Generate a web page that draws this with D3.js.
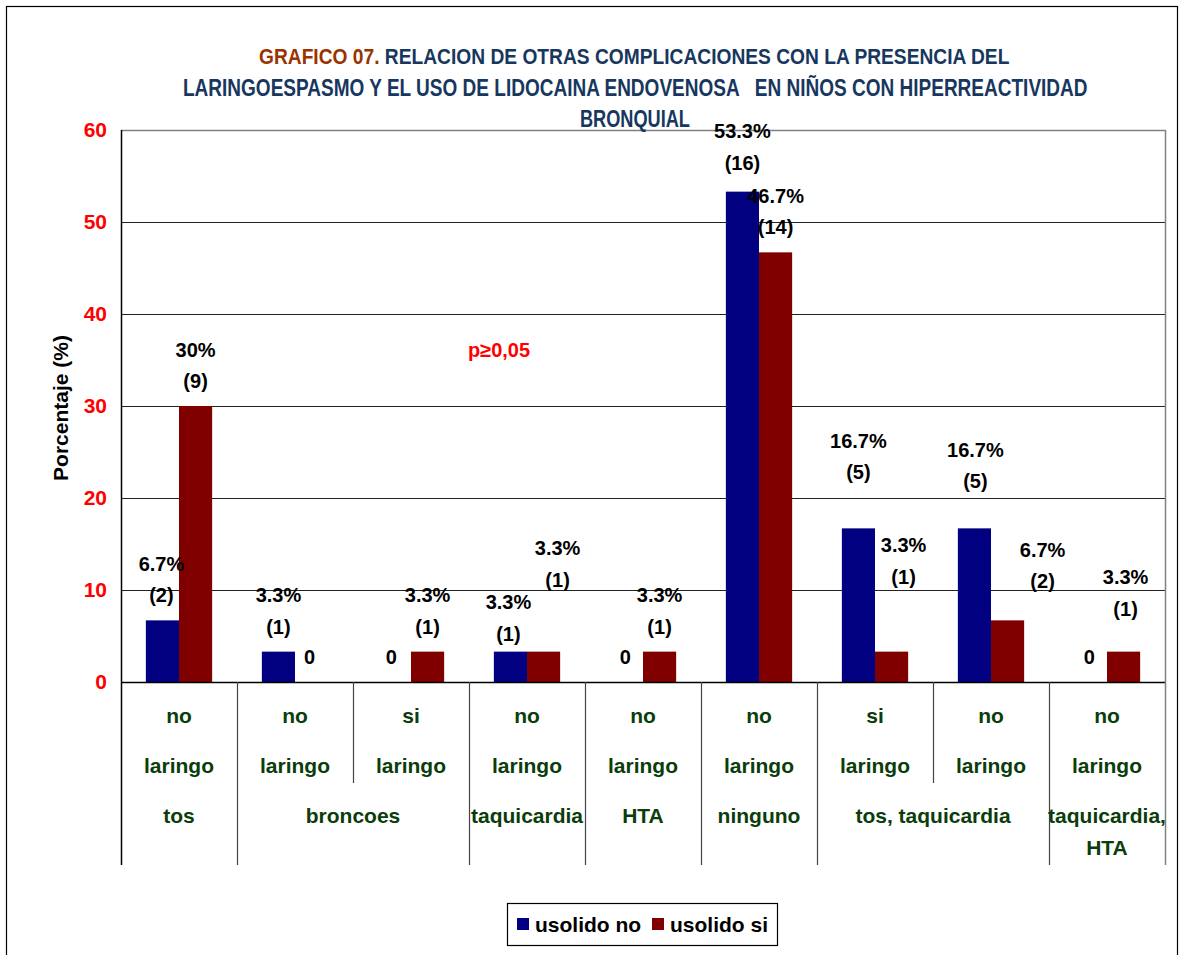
<!DOCTYPE html>
<html>
<head>
<meta charset="utf-8">
<script src="https://cdn.jsdelivr.net/npm/d3@7"></script>
<style>
  html, body { margin: 0; padding: 0; background: #fff; }
  svg { display: block; font-family: "Liberation Sans", Arial, sans-serif; }
</style>
</head>
<body>
<div id="chart"></div>
<script>
// ---------------- DATA ----------------
const categories = ["c1","c2","c3","c4","c5","c6","c7","c8","c9"];
const level1 = ["no","no","si","no","no","no","si","no","no"];
const level2 = ["laringo","laringo","laringo","laringo","laringo","laringo","laringo","laringo","laringo"];
const groupNames = ["tos","broncoes","taquicardia","HTA","ninguno","tos, taquicardia","taquicardia,|HTA"];
const groupSpans = [1,2,1,1,1,2,1];
const seriesNames = ["usolido no","usolido si"];
const usolidoNo = [6.7,3.3,0,3.3,0,53.3,16.7,16.7,0];
const usolidoSi = [30,0,3.3,3.3,3.3,46.7,3.3,6.7,3.3];
const countsNo = [2,1,0,1,0,16,5,5,0];
const countsSi = [9,0,1,1,1,14,1,2,1];
const yTicks = [0,10,20,30,40,50,60];
const titleLead = "GRAFICO 07.";
const titleLines = ["RELACION DE OTRAS COMPLICACIONES CON LA PRESENCIA DEL",
                    "LARINGOESPASMO Y EL USO DE LIDOCAINA ENDOVENOSA   EN NIÑOS CON HIPERREACTIVIDAD",
                    "BRONQUIAL"];
const yTitle = "Porcentaje (%)";
const pNote = "p\u22650,05";

// label nudges (manual placements in the original), [dx, dy] in px
const nudgeNo = [[-1,0],[0,0],[-3,0],[-2,7],[-1,0],[0,-4],[0,-31],[1,-22],[-1,0]];
const nudgeSi = [[0,0],[-2,0],[0,0],[14,-47],[0,0],[0,0],[12,-50],[35,-14],[2,-18]];

// ---------------- LAYOUT ----------------
const W = 1182, H = 955;
const plot = {left: 121, right: 1165, top: 130, bottom: 682};
const colors = {no: "#000080", si: "#800000"};
const green = "#0b3d0b";

const svg = d3.select("#chart").append("svg")
  .attr("width", W).attr("height", H);

svg.append("rect").attr("width", W).attr("height", H).attr("fill", "#fff");
// outer chart border
svg.append("rect").attr("x", 6.5).attr("y", 6.5).attr("width", 1171).attr("height", 960)
  .attr("fill", "none").attr("stroke", "#000").attr("stroke-width", 1.2);

const y = d3.scaleLinear().domain([0, 60]).range([plot.bottom, plot.top]);
const x0 = d3.scaleBand().domain(categories).range([plot.left, plot.right]).paddingInner(0).paddingOuter(0);
const x1 = d3.scaleBand().domain(["no","si"]).range([0, x0.bandwidth()]).paddingInner(0).paddingOuter(0.75);

// gridlines
svg.append("g").selectAll("line").data(yTicks.filter(t => t > 0 && t < 60)).join("line")
  .attr("x1", plot.left).attr("x2", plot.right)
  .attr("y1", d => Math.round(y(d)) + 0.5).attr("y2", d => Math.round(y(d)) + 0.5)
  .attr("stroke", "#222").attr("stroke-width", 1);
// plot border top/right (gray)
svg.append("path")
  .attr("d", `M${plot.left},${plot.top + 0.5}H${plot.right + 0.5}V${plot.bottom}`)
  .attr("fill", "none").attr("stroke", "#808080").attr("stroke-width", 1.5);

// bars
const rows = categories.map((c, i) => ({c, i, no: usolidoNo[i], si: usolidoSi[i]}));
const barG = svg.append("g");
["no","si"].forEach(s => {
  barG.selectAll(".bar-" + s).data(rows).join("rect")
    .attr("class", "bar-" + s)
    .attr("x", d => x0(d.c) + x1(s))
    .attr("width", x1.bandwidth())
    .attr("y", d => y(d[s]))
    .attr("height", d => y(0) - y(d[s]))
    .attr("fill", colors[s]);
});

// y axis
const yAxis = d3.axisLeft(y).tickValues(yTicks).tickSize(0).tickPadding(14);
const yg = svg.append("g").attr("transform", `translate(${plot.left},0)`).call(yAxis);
yg.select(".domain").remove();
yg.selectAll("text").attr("fill", "#ff0000").attr("font-size", 21).attr("font-weight", "bold")
  .attr("font-family", "'Liberation Sans', Arial, sans-serif");
// y axis line (extends through the category table)
svg.append("line").attr("x1", plot.left + 0.5).attr("x2", plot.left + 0.5)
  .attr("y1", plot.top).attr("y2", 865).attr("stroke", "#000").attr("stroke-width", 1.5);
// x axis line
svg.append("line").attr("x1", plot.left).attr("x2", plot.right)
  .attr("y1", plot.bottom + 0.5).attr("y2", plot.bottom + 0.5).attr("stroke", "#000").attr("stroke-width", 1.5);
// right edge extends
svg.append("line").attr("x1", plot.right + 0.5).attr("x2", plot.right + 0.5)
  .attr("y1", plot.bottom).attr("y2", 865).attr("stroke", "#808080").attr("stroke-width", 1.5);

// category separators
const groupStarts = [];
let acc = 0;
groupSpans.forEach(s => { groupStarts.push(acc); acc += s; });
categories.forEach((c, i) => {
  if (i === 0) return;
  const isGroupBoundary = groupStarts.includes(i);
  const xx = Math.round(x0(c)) + 0.5;
  svg.append("line").attr("x1", xx).attr("x2", xx)
    .attr("y1", plot.bottom).attr("y2", isGroupBoundary ? 865 : 783)
    .attr("stroke", "#444").attr("stroke-width", 1.2);
});

// category labels
const catFont = {size: 21, weight: "bold"};
const lab = svg.append("g").attr("fill", green).attr("font-size", catFont.size)
  .attr("font-weight", catFont.weight).attr("text-anchor", "middle");
lab.selectAll(".l1").data(categories).join("text")
  .attr("x", d => x0(d) + x0.bandwidth() / 2).attr("y", 723)
  .text((d, i) => level1[i]);
lab.selectAll(".l2").data(categories).join("text")
  .attr("x", d => x0(d) + x0.bandwidth() / 2).attr("y", 773)
  .text((d, i) => level2[i]);
groupNames.forEach((g, gi) => {
  const start = groupStarts[gi], span = groupSpans[gi];
  const cx = (x0(categories[start]) + x0(categories[start + span - 1]) + x0.bandwidth()) / 2;
  const parts = g.split("|");
  parts.forEach((p, k) => {
    lab.append("text").attr("x", cx).attr("y", 823 + k * 32).text(p);
  });
});

// data labels
const dl = svg.append("g").attr("font-size", 20).attr("font-weight", "bold")
  .attr("text-anchor", "middle").attr("fill", "#000");
function addLabel(s, vals, counts, nudges) {
  vals.forEach((v, i) => {
    const cx = x0(categories[i]) + x1(s) + x1.bandwidth() / 2 + nudges[i][0];
    const top = y(v) + nudges[i][1];
    if (v === 0) {
      dl.append("text").attr("x", cx).attr("y", top - 25 + 7).text("0");
    } else {
      dl.append("text").attr("x", cx).attr("y", top - 56.5 + 7).text(d3.format("")(v) + "%");
      dl.append("text").attr("x", cx).attr("y", top - 25 + 7).text("(" + counts[i] + ")");
    }
  });
}
addLabel("no", usolidoNo, countsNo, nudgeNo);
addLabel("si", usolidoSi, countsSi, nudgeSi);

// p note
svg.append("text").attr("x", 468).attr("y", 357).attr("fill", "#ff0000")
  .attr("font-size", 20).attr("font-weight", "bold").text(pNote);

// y title
svg.append("text").attr("transform", "translate(68,408) rotate(-90)")
  .attr("text-anchor", "middle").attr("font-size", 21).attr("font-weight", "bold")
  .attr("fill", "#000").text(yTitle);

// title (condensed via horizontal scale)
const tFont = 23;
const titleBlue = "#17375e";
const tSpecs = [[259, 64, 751], [183, 96, 905], [580, 127, 110]];
titleLines.forEach((t, i) => {
  const g = svg.append("g");
  const te = g.append("text").attr("x", 0).attr("y", 0)
    .attr("font-size", tFont).attr("font-weight", "bold")
    .attr("xml:space", "preserve").style("white-space", "pre");
  if (i === 0) {
    te.append("tspan").attr("fill", "#993300").text(titleLead + " ");
  }
  te.append("tspan").attr("fill", titleBlue).text(t);
  const natural = te.node().getComputedTextLength();
  const sx = tSpecs[i][2] / natural;
  g.attr("transform", `translate(${tSpecs[i][0]},${tSpecs[i][1]}) scale(${sx},1)`);
});

// legend
const lg = svg.append("g");
lg.append("rect").attr("x", 507.5).attr("y", 903.5).attr("width", 270).attr("height", 42)
  .attr("fill", "#fff").attr("stroke", "#000").attr("stroke-width", 1.2);
const legX = [517, 652];
seriesNames.forEach((n, i) => {
  const s = i === 0 ? "no" : "si";
  lg.append("rect").attr("x", legX[i]).attr("y", 918).attr("width", 12).attr("height", 12)
    .attr("fill", colors[s]);
  lg.append("text").attr("x", legX[i] + 18).attr("y", 932).attr("font-size", 21)
    .attr("font-weight", "bold").attr("fill", "#000").text(n);
});
</script>
</body>
</html>
